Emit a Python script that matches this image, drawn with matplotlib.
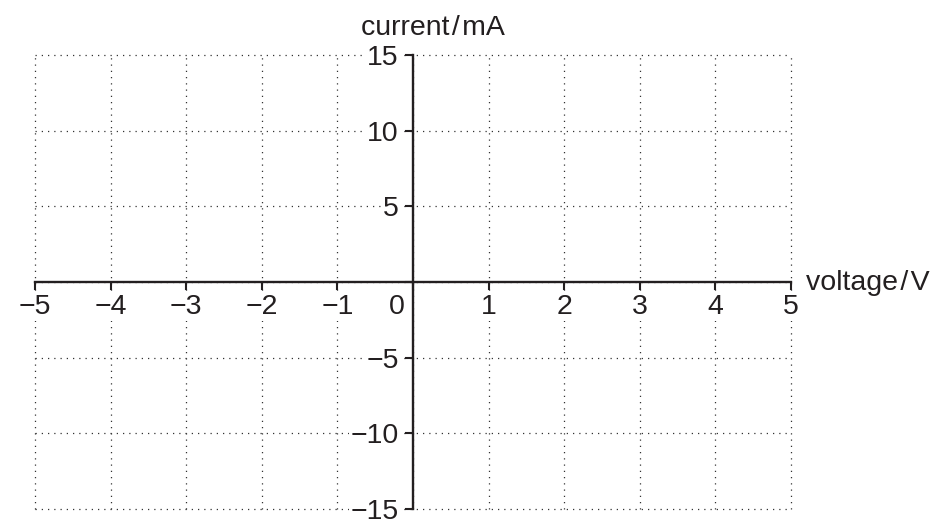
import matplotlib
matplotlib.use('Agg')
import matplotlib.pyplot as plt

plt.rcParams['font.family'] = ['Liberation Sans', 'DejaVu Sans']

# axis values
x_ticks = [-5, -4, -3, -2, -1, 0, 1, 2, 3, 4, 5]
y_ticks = [-15, -10, -5, 0, 5, 10, 15]
x_labels = ['\u22125', '\u22124', '\u22123', '\u22122', '\u22121', '', '1', '2', '3', '4', '5']
y_labels = ['\u221215', '\u221210', '\u22125', '', '5', '10', '15']
x_title = 'voltage\u200a/\u200aV'
y_title = 'current\u200a/\u200amA'

ink = '#231f20'
W, H = 941, 524

fig = plt.figure(figsize=(W / 100, H / 100), dpi=100)
ax = fig.add_axes([35 / W, 1 - 509 / H, 756 / W, 454 / H])

ax.set_xlim(-5, 5)
ax.set_ylim(-15, 15)

ax.spines['left'].set_position(('data', 0))
ax.spines['bottom'].set_position(('data', 0))
ax.spines['right'].set_visible(False)
ax.spines['top'].set_visible(False)
for s in ['left', 'bottom']:
    ax.spines[s].set_color(ink)
    ax.spines[s].set_linewidth(1.7)

ax.set_xticks(x_ticks)
ax.set_xticklabels(x_labels)
ax.set_yticks(y_ticks)
ax.set_yticklabels(y_labels)
ax.tick_params(axis='both', direction='out', length=5.8, width=1.5,
               colors=ink, labelsize=20.5)
ax.tick_params(axis='x', pad=3)
ax.tick_params(axis='y', pad=4.5)

# labels knock out the dotted grid behind them
for lab in ax.get_xticklabels() + ax.get_yticklabels():
    lab.set_bbox(dict(facecolor='white', edgecolor='none', pad=0.8))

ax.grid(True, linestyle=(0, (1, 4)), color='#333333', linewidth=0.9)
ax.set_axisbelow(True)
for line in ax.get_xgridlines() + ax.get_ygridlines():
    line.set_clip_on(False)

# origin label sits left of the vertical axis
ax.annotate('0', xy=(0, 0), xytext=(-11.5, -8.8), textcoords='offset points',
            ha='center', va='top', fontsize=20.5, color=ink)

fig.text(433 / W, 1 - 35 / H, y_title, ha='center', va='baseline',
         fontsize=20.5, color=ink)
fig.text(806 / W, 1 - 290 / H, x_title, ha='left', va='baseline',
         fontsize=20.5, color=ink)

fig.savefig('out.png', dpi=100)
